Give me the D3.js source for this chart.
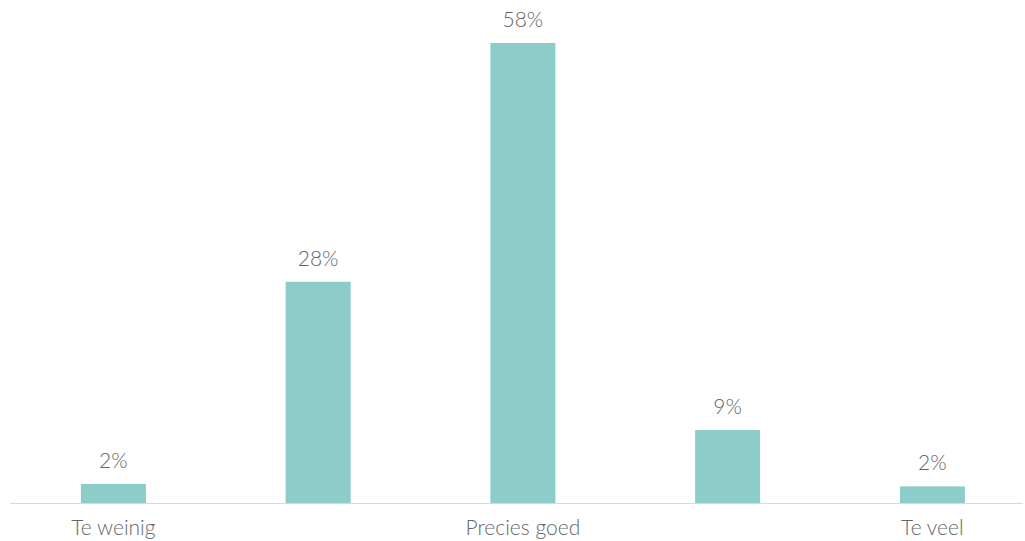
<!DOCTYPE html>
<html>
<head>
<meta charset="utf-8">
<script src="https://cdn.jsdelivr.net/npm/d3@7"></script>
<style>
  html, body { margin: 0; padding: 0; background: #fff; }
  svg { display: block; }
  text { font-family: Lato, "Open Sans", sans-serif; fill: #666; }
</style>
</head>
<body>
<svg id="chart" width="1025" height="541"></svg>
<script>
const categories = ["c1", "c2", "c3", "c4", "c5"];
const tickLabels = ["Te weinig", "", "Precies goed", "", "Te veel"];
const values = [2.4, 27.9, 58, 9.2, 2.1];
const valueLabels = ["2%", "28%", "58%", "9%", "2%"];

const W = 1025, H = 541;
const svg = d3.select("#chart");
const baseY = 503;

const x = d3.scaleBand()
  .domain(categories)
  .range([11, 1034.75])
  .paddingInner(0.6825)
  .paddingOuter(0.34125);

const y = d3.scaleLinear().domain([0, 58]).range([baseY, 43]);

svg.selectAll("rect.bar")
  .data(values)
  .enter().append("rect")
  .attr("class", "bar")
  .attr("x", (d, i) => x(categories[i]))
  .attr("y", d => y(d))
  .attr("width", x.bandwidth())
  .attr("height", d => baseY - y(d))
  .attr("fill", "#8ccdca");

svg.append("line")
  .attr("x1", 10).attr("x2", 1023)
  .attr("y1", baseY + 0.5).attr("y2", baseY + 0.5)
  .attr("stroke", "#d9d9d9").attr("stroke-width", 1);

svg.selectAll("text.val")
  .data(values)
  .enter().append("text")
  .attr("class", "val")
  .attr("x", (d, i) => x(categories[i]) + x.bandwidth() / 2)
  .attr("y", d => y(d) - 16)
  .attr("text-anchor", "middle")
  .style("font-size", "21px")
  .style("font-weight", 300)
  .style("fill", "#666")
  .text((d, i) => valueLabels[i]);

const xAxis = d3.axisBottom(x).tickSize(0).tickFormat((d, i) => tickLabels[i]);
const gx = svg.append("g").attr("transform", `translate(0,${baseY})`).call(xAxis);
gx.select(".domain").remove();
gx.selectAll("text")
  .attr("dy", 0).attr("y", 32)
  .style("font-size", "21px")
  .style("font-weight", 300)
  .style("font-family", "Lato, 'Open Sans', sans-serif")
  .style("fill", "#666");
</script>
</body>
</html>
